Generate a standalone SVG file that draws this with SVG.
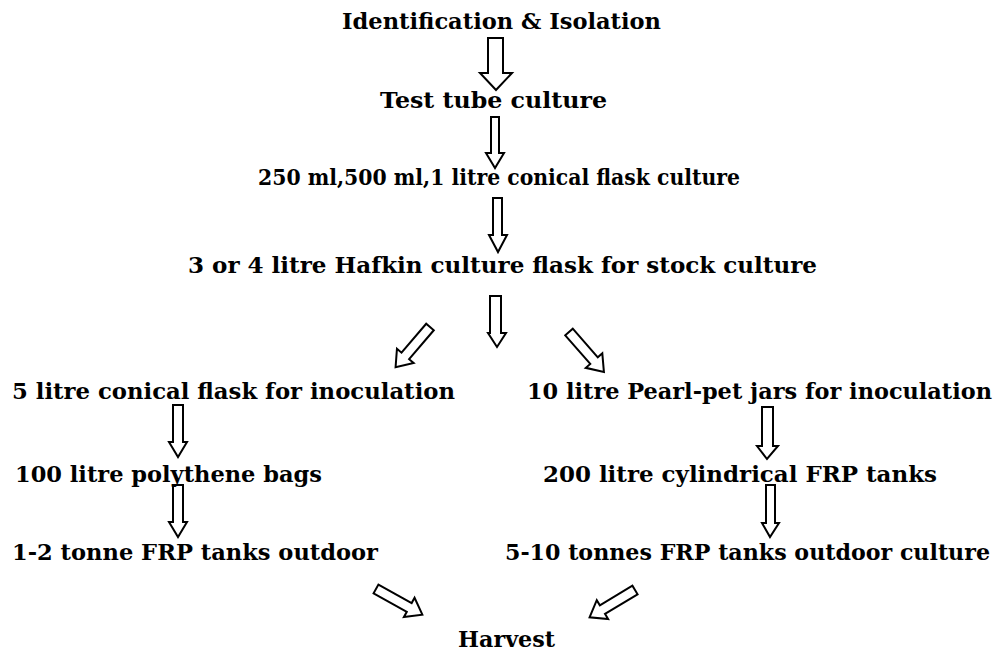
<svg xmlns="http://www.w3.org/2000/svg" width="1003" height="653" viewBox="0 0 1003 653">
<style>
text{font-family:"DejaVu Serif","Liberation Serif",serif;font-weight:bold;font-size:22px;fill:#000}
.ar{fill:#fff;stroke:#000;stroke-width:2;stroke-linejoin:miter}
</style>
<defs>
<polygon id="diag" class="ar" points="0,-5 38,-5 38,-11 53,0 38,11 38,5 0,5"/>
</defs>
<rect width="1003" height="653" fill="#fff"/>
<g id="connectors">
<polygon class="ar" points="488,38 503,38 503,73 512,73 496,90 480,73 488,73"/>
<polygon class="ar" points="491,117 499,117 499,153 504,153 495,168 486,153 491,153"/>
<polygon class="ar" points="493,198 502,198 502,235 507,235 498,252 489,235 493,235"/>
<polygon class="ar" points="490,296 501,296 501,333 506,333 497,347 488,333 490,333"/>
<use href="#diag" transform="translate(430,327) rotate(130.5)"/>
<use href="#diag" transform="translate(569,332) rotate(48.8)"/>
<polygon class="ar" points="173,405 183,405 183,442 187,442 178,457 169,442 173,442"/>
<polygon class="ar" points="173,485 183,485 183,522 187,522 178,537 169,522 173,522"/>
<polygon class="ar" points="762,407 773,407 773,446 778,446 767,459 757,446 762,446"/>
<polygon class="ar" points="766,485 775,485 775,523 779,523 770,537 762,523 766,523"/>
<use href="#diag" transform="translate(376,589) rotate(29)"/>
<use href="#diag" transform="translate(635,590) rotate(149)"/>
</g>
<g id="n1"><text x="342" y="29" textLength="319" lengthAdjust="spacingAndGlyphs">Identification &amp; Isolation</text></g>
<g id="n2"><text x="380" y="108" textLength="227" lengthAdjust="spacingAndGlyphs">Test tube culture</text></g>
<g id="n3"><text x="258" y="185" textLength="482" lengthAdjust="spacingAndGlyphs">250 ml,500 ml,1 litre conical flask culture</text></g>
<g id="n4"><text x="188" y="273" textLength="629" lengthAdjust="spacingAndGlyphs">3 or 4 litre Hafkin culture flask for stock culture</text></g>
<g id="n5"><text x="12" y="399" textLength="443" lengthAdjust="spacingAndGlyphs">5 litre conical flask for inoculation</text></g>
<g id="n6"><text x="527" y="399" textLength="465" lengthAdjust="spacingAndGlyphs">10 litre Pearl-pet jars for inoculation</text></g>
<g id="n7"><text x="15" y="482" textLength="307" lengthAdjust="spacingAndGlyphs">100 litre polythene bags</text></g>
<g id="n8"><text x="543" y="482" textLength="394" lengthAdjust="spacingAndGlyphs">200 litre cylindrical FRP tanks</text></g>
<g id="n9"><text x="12" y="560" textLength="366" lengthAdjust="spacingAndGlyphs">1-2 tonne FRP tanks outdoor</text></g>
<g id="n10"><text x="505" y="560" textLength="485" lengthAdjust="spacingAndGlyphs">5-10 tonnes FRP tanks outdoor culture</text></g>
<g id="n11"><text x="458" y="647" textLength="97" lengthAdjust="spacingAndGlyphs">Harvest</text></g>
</svg>
